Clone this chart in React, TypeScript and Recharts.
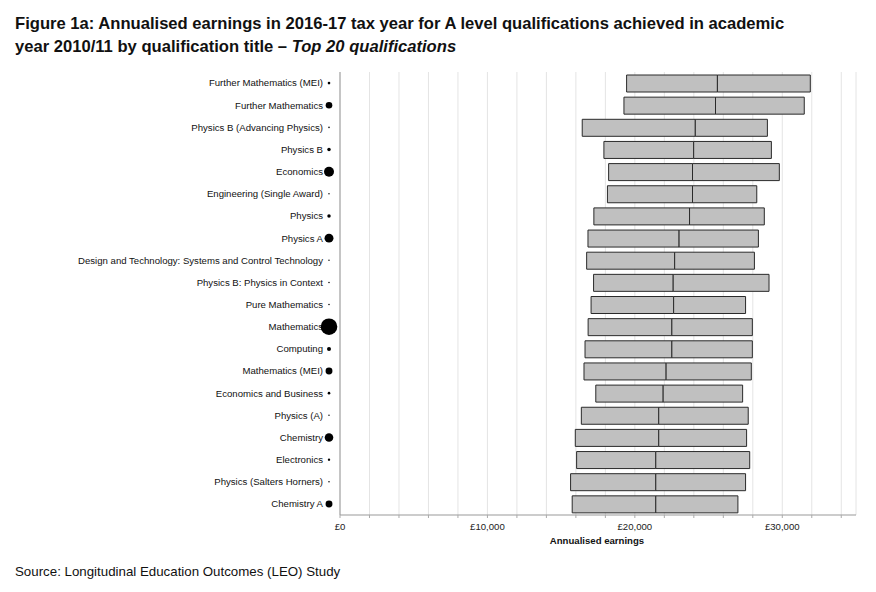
import React from "react";
import {
  ComposedChart,
  Bar,
  XAxis,
  YAxis,
  CartesianGrid,
} from "recharts";

const categories = [
  "Further Mathematics (MEI)",
  "Further Mathematics",
  "Physics B (Advancing Physics)",
  "Physics B",
  "Economics",
  "Engineering (Single Award)",
  "Physics",
  "Physics A",
  "Design and Technology: Systems and Control Technology",
  "Physics B: Physics in Context",
  "Pure Mathematics",
  "Mathematics",
  "Computing",
  "Mathematics (MEI)",
  "Economics and Business",
  "Physics (A)",
  "Chemistry",
  "Electronics",
  "Physics (Salters Horners)",
  "Chemistry A",
];

// lower quartile, median, upper quartile of annualised earnings (£)
const lowerQuartile = [
  19440, 19260, 16430, 17900, 18220, 18140, 17220, 16820, 16730, 17200,
  17030, 16830, 16620, 16550, 17350, 16370, 15960, 16050, 15640, 15750,
];
const medianEarnings = [
  25600, 25470, 24100, 23990, 23910, 23910, 23710, 23000, 22700, 22600,
  22630, 22510, 22510, 22120, 21920, 21620, 21620, 21420, 21420, 21420,
];
const upperQuartile = [
  31900, 31490, 28990, 29260, 29800, 28270, 28780, 28380, 28110, 29100,
  27510, 27970, 27970, 27900, 27310, 27690, 27580, 27790, 27510, 26990,
];
// relative number of achievers (dot area)
const cohortSize = [
  1.7, 11, 0.6, 3, 25, 0.5, 3, 20, 0.5, 0.6,
  0.6, 69, 4, 12, 1.7, 0.5, 18.5, 1.4, 0.6, 12,
];

const gridTicks = [
  0, 2000, 4000, 6000, 8000, 10000, 12000, 14000, 16000, 18000, 20000,
  22000, 24000, 26000, 28000, 30000, 32000, 34000,
];
const labelledTicks = [0, 10000, 20000, 30000];
const tickLabels = ["£0", "£10,000", "£20,000", "£30,000"];

const data = categories.map((name, i) => ({
  name,
  base: lowerQuartile[i],
  lower: medianEarnings[i] - lowerQuartile[i],
  upper: upperQuartile[i] - medianEarnings[i],
  size: cohortSize[i],
}));

const FONT = '"Liberation Sans", Arial, sans-serif';

const YTick = (props: any) => {
  const { x, y, payload, index } = props;
  const r = Math.sqrt(cohortSize[index] ?? 0);
  return (
    <g>
      <text
        x={x - 15}
        y={y}
        dy={3.4}
        textAnchor="end"
        fontSize={9.6}
        fontFamily={FONT}
        fill="#111"
      >
        {payload.value}
      </text>
      <circle cx={x - 9} cy={y} r={r} fill="#000" />
    </g>
  );
};

const XTick = (props: any) => {
  const { x, y, payload } = props;
  const idx = labelledTicks.indexOf(payload.value);
  if (idx < 0) return null;
  return (
    <text
      x={x}
      y={y}
      dy={10}
      textAnchor="middle"
      fontSize={9.6}
      fontFamily={FONT}
      fill="#222"
    >
      {tickLabels[idx]}
    </text>
  );
};

export default function App() {
  return (
    <div
      style={{
        position: "absolute",
        left: 0,
        top: 0,
        width: 876,
        height: 592,
        background: "#fff",
        fontFamily: FONT,
      }}
    >
      <div
        style={{
          position: "absolute",
          left: 15,
          top: 12,
          fontSize: 16.6,
          fontWeight: "bold",
          lineHeight: "23px",
          color: "#111",
          whiteSpace: "nowrap",
        }}
      >
        <div>
          Figure 1a: Annualised earnings in 2016-17 tax year for A level
          qualifications achieved in academic
        </div>
        <div>
          year 2010/11 by qualification title – <i>Top 20 qualifications</i>
        </div>
      </div>
      <div style={{ position: "absolute", left: 0, top: 0 }}>
        <ComposedChart
          width={876}
          height={592}
          data={data}
          layout="vertical"
          margin={{ top: 72, right: 20, left: 0, bottom: 57 }}
          barSize={17}
        >
          <CartesianGrid
            horizontal={false}
            vertical={true}
            stroke="#e4e4e4"
          />
          <XAxis
            type="number"
            domain={[0, 35000]}
            ticks={gridTicks}
            interval={0}
            height={20}
            tick={<XTick />}
            tickSize={3}
            tickLine={{ stroke: "#aaa" }}
            axisLine={{ stroke: "#999" }}
          />
          <XAxis
            xAxisId="top"
            orientation="top"
            type="number"
            domain={[0, 35000]}
            height={0}
            tick={false}
            tickLine={false}
            axisLine={{ stroke: "#aaa" }}
          />
          <YAxis
            type="category"
            dataKey="name"
            width={340}
            interval={0}
            tick={<YTick />}
            tickLine={false}
            tickSize={0}
            axisLine={{ stroke: "#999" }}
          />
          <YAxis
            yAxisId="right"
            orientation="right"
            type="category"
            dataKey="name"
            width={0}
            tick={false}
            tickLine={false}
            axisLine={{ stroke: "#aaa" }}
          />
          <Bar
            dataKey="base"
            stackId="a"
            fill="transparent"
            isAnimationActive={false}
          />
          <Bar
            dataKey="lower"
            stackId="a"
            fill="#c0c0c0"
            stroke="#2a2a2a"
            strokeWidth={1}
            isAnimationActive={false}
          />
          <Bar
            dataKey="upper"
            stackId="a"
            fill="#c0c0c0"
            stroke="#2a2a2a"
            strokeWidth={1}
            isAnimationActive={false}
          />
        </ComposedChart>
      </div>
      <div
        style={{
          position: "absolute",
          left: 0,
          width: 876,
          top: 535,
          paddingLeft: 318,
          boxSizing: "border-box",
          textAlign: "center",
          fontSize: 9.6,
          fontWeight: "bold",
          color: "#111",
        }}
      >
        Annualised earnings
      </div>
      <div
        style={{
          position: "absolute",
          left: 15,
          top: 564,
          fontSize: 13.3,
          color: "#111",
          whiteSpace: "nowrap",
        }}
      >
        Source: Longitudinal Education Outcomes (LEO) Study
      </div>
    </div>
  );
}
